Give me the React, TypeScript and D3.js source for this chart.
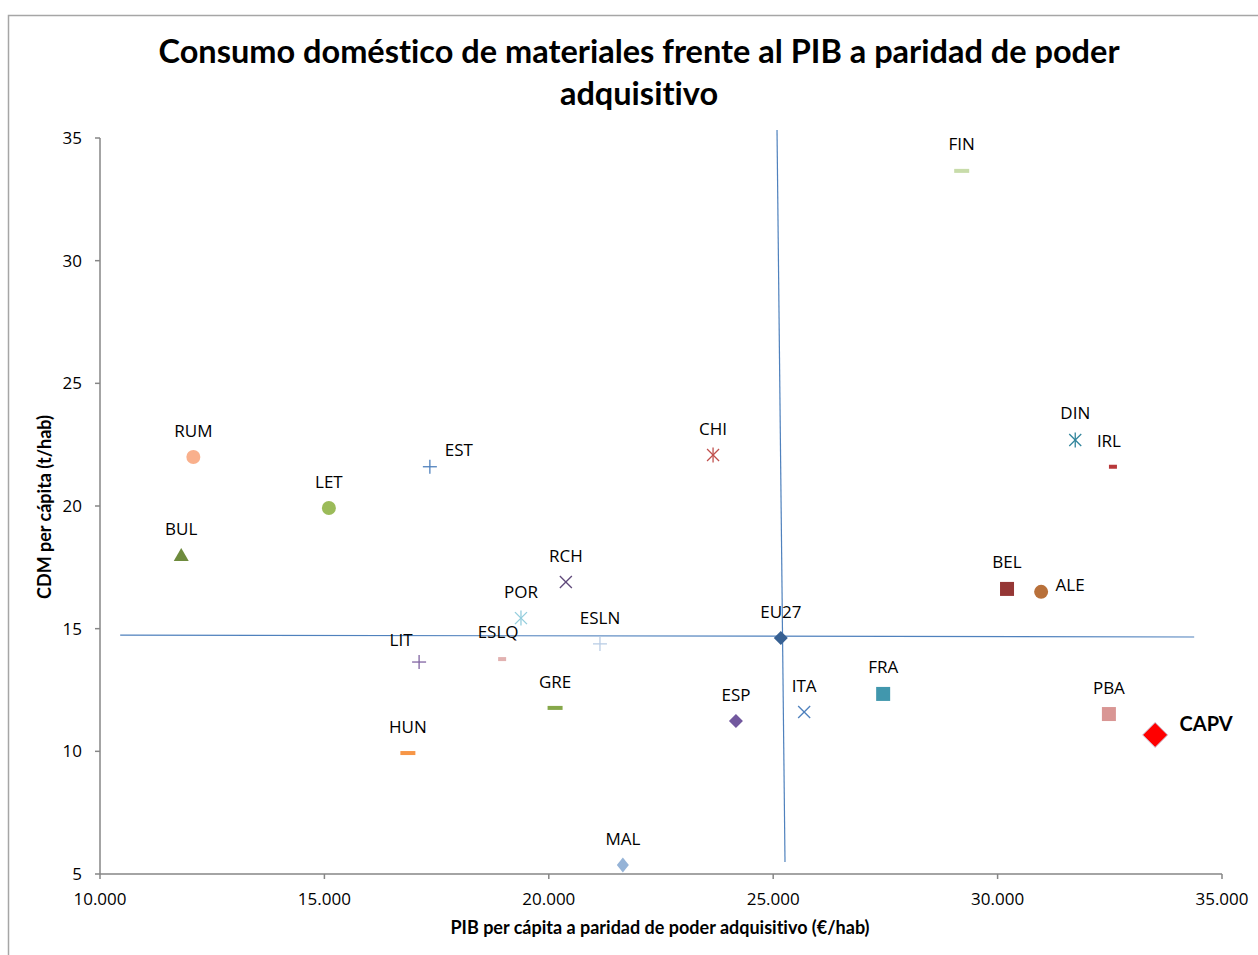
import React from "react";
import * as d3 from "d3";

const W = 1258;
const H = 955;

const titleLines = ["Consumo doméstico de materiales frente al PIB a paridad de poder", "adquisitivo"];
const xAxisTitle = "PIB per cápita a paridad de poder adquisitivo (€/hab)";
const yAxisTitle = "CDM per cápita (t/hab)";

const xTicks = [10000, 15000, 20000, 25000, 30000, 35000];
const yTicks = [5, 10, 15, 20, 25, 30, 35];

const countries = ["RUM", "LET", "BUL", "EST", "CHI", "FIN", "DIN", "IRL", "RCH", "POR", "ESLN", "ESLQ", "LIT", "GRE", "HUN", "EU27", "ESP", "ITA", "MAL", "FRA", "BEL", "ALE", "PBA", "CAPV"];
const gdp = [12080, 15100, 11810, 17350, 23660, 29200, 31730, 32570, 20380, 19380, 21140, 18960, 17110, 20140, 16860, 25170, 24170, 25690, 21650, 27450, 30210, 30970, 32480, 33510];
const cdm = [22.0, 19.92, 18.0, 21.6, 22.08, 33.66, 22.69, 21.6, 16.9, 15.43, 14.38, 13.76, 13.64, 11.77, 9.93, 14.62, 11.24, 11.6, 5.37, 12.34, 16.62, 16.5, 11.52, 10.67];

// reference lines (EU27 averages) in data coordinates
const hLineX = [10450, 34380];
const hLineY = [14.74, 14.66];
const vLineX = [25085, 25263];
const vLineY = [35.33, 5.49];

// styles
const markerTypes = ["circle", "circle", "triangle", "plus", "star", "dashLong", "star", "dashShort", "x", "star", "plus", "dashShort", "plus", "dashLong", "dashLong", "diamond", "diamond", "x", "diamondTall", "square", "square", "circle", "square", "diamondBig"];
const markerColors = ["#F9B08C", "#9BBB59", "#6E8B3D", "#4F81BD", "#C0504D", "#C8DCAA", "#31859C", "#B8383A", "#604A7B", "#93CDDD", "#B9CDE5", "#E2B2B1", "#8064A2", "#86A84A", "#F79646", "#376092", "#72589E", "#4F81BD", "#95B3D7", "#4197AD", "#953735", "#B8703A", "#D99694", "#FF0000"];
const labelDx = [0, 0, 0, 29, 0, 0, 0, -4, 0, 0, 0, -4, -18, 0, 0, 0, 0, 0, 0, 0, 0, 29, 0, 51];
const labelDy = [-26, -26, -26, -17, -26, -27, -27, -26, -26, -26, -26, -27, -22, -26, -26, -26, -26, -26, -26, -27, -27, -7, -26, -11];

const plot = { left: 100, right: 1222, top: 138, bottom: 874 };

const x = d3.scaleLinear().domain([10000, 35000]).range([plot.left, plot.right]);
const y = d3.scaleLinear().domain([5, 35]).range([plot.bottom, plot.top]);
const fmt = (v: number) => d3.format(",")(v).replace(/,/g, ".");

function Marker({ type, color, cx, cy }: { type: string; color: string; cx: number; cy: number }) {
  switch (type) {
    case "circle":
      return <circle cx={cx} cy={cy} r={7} fill={color} />;
    case "triangle":
      return <path d={`M${cx},${cy - 7}L${cx + 7.5},${cy + 6}L${cx - 7.5},${cy + 6}Z`} fill={color} />;
    case "square":
      return <rect x={cx - 7} y={cy - 7} width={14} height={14} fill={color} />;
    case "diamond":
      return <path d={`M${cx},${cy - 7}L${cx + 7},${cy}L${cx},${cy + 7}L${cx - 7},${cy}Z`} fill={color} />;
    case "diamondTall":
      return <path d={`M${cx},${cy - 7.5}L${cx + 6},${cy}L${cx},${cy + 7.5}L${cx - 6},${cy}Z`} fill={color} />;
    case "diamondBig":
      return <path d={`M${cx},${cy - 12.5}L${cx + 12.5},${cy}L${cx},${cy + 12.5}L${cx - 12.5},${cy}Z`} fill={color} stroke="#C8C8D8" strokeWidth={1} />;
    case "plus":
      return (
        <g stroke={color} strokeWidth={1.3}>
          <line x1={cx - 7} y1={cy} x2={cx + 7} y2={cy} />
          <line x1={cx} y1={cy - 7} x2={cx} y2={cy + 7} />
        </g>
      );
    case "x":
      return (
        <g stroke={color} strokeWidth={1.3}>
          <line x1={cx - 6} y1={cy - 6} x2={cx + 6} y2={cy + 6} />
          <line x1={cx - 6} y1={cy + 6} x2={cx + 6} y2={cy - 6} />
        </g>
      );
    case "star":
      return (
        <g stroke={color} strokeWidth={1.3}>
          <line x1={cx - 6} y1={cy - 6} x2={cx + 6} y2={cy + 6} />
          <line x1={cx - 6} y1={cy + 6} x2={cx + 6} y2={cy - 6} />
          <line x1={cx} y1={cy - 7.5} x2={cx} y2={cy + 7.5} />
        </g>
      );
    case "dashLong":
      return <rect x={cx - 7.5} y={cy - 2} width={15} height={4} fill={color} />;
    case "dashShort":
      return <rect x={cx - 4} y={cy - 2} width={8} height={4} fill={color} />;
    default:
      return null;
  }
}

export default function App() {
  const axisColor = "#868686";
  const refColor = "#4F81BD";
  const noLig = { fontVariantLigatures: "none" as const };
  return (
    <svg width={W} height={H} style={{ position: "absolute", left: 0, top: 0, display: "block", background: "#fff" }}>
      <rect x={8.5} y={15.5} width={W + 10} height={H + 10} fill="#fff" stroke="#A6A6A6" strokeWidth={1.5} />
      <g fontFamily="Lato, 'Open Sans', sans-serif" fontWeight="bold" fontSize={32.5} textAnchor="middle" fill="#000" style={noLig}>
        {titleLines.map((t, i) => (
          <text key={i} x={639} y={63 + i * 42}>{t}</text>
        ))}
      </g>

      {/* reference lines */}
      <line x1={x(hLineX[0])} y1={y(hLineY[0])} x2={x(hLineX[1])} y2={y(hLineY[1])} stroke={refColor} strokeWidth={1.2} />
      <line x1={x(vLineX[0])} y1={y(vLineY[0])} x2={x(vLineX[1])} y2={y(vLineY[1])} stroke={refColor} strokeWidth={1.2} />

      {/* axes */}
      <g stroke={axisColor} strokeWidth={1.5}>
        <line x1={plot.left} y1={plot.top} x2={plot.left} y2={plot.bottom} />
        <line x1={plot.left} y1={plot.bottom} x2={plot.right} y2={plot.bottom} />
        {yTicks.map((t) => (
          <line key={"yt" + t} x1={plot.left - 5} y1={y(t)} x2={plot.left} y2={y(t)} />
        ))}
        {xTicks.map((t) => (
          <line key={"xt" + t} x1={x(t)} y1={plot.bottom} x2={x(t)} y2={plot.bottom + 5} />
        ))}
      </g>
      <g fontFamily="'Open Sans', sans-serif" fontSize={17} fill="#000">
        {yTicks.map((t) => (
          <text key={"yl" + t} x={plot.left - 18} y={y(t)} dy="0.35em" textAnchor="end">{t}</text>
        ))}
        {xTicks.map((t) => (
          <text key={"xl" + t} x={x(t)} y={plot.bottom + 31} textAnchor="middle">{fmt(t)}</text>
        ))}
      </g>

      <text x={660} y={934} textAnchor="middle" fontFamily="Lato, sans-serif" fontWeight="bold" fontSize={18} style={noLig}>{xAxisTitle}</text>
      <text transform={`translate(51,507) rotate(-90)`} textAnchor="middle" fontFamily="Lato, sans-serif" fontWeight="bold" fontSize={18} style={noLig}>{yAxisTitle}</text>

      {/* points */}
      {countries.map((c, i) => (
        <Marker key={"m" + c} type={markerTypes[i]} color={markerColors[i]} cx={x(gdp[i])} cy={y(cdm[i])} />
      ))}
      {countries.map((c, i) => (
        <text
          key={"l" + c}
          x={x(gdp[i]) + labelDx[i]}
          y={y(cdm[i]) + labelDy[i]}
          dy="0.35em"
          textAnchor="middle"
          fontFamily={c === "CAPV" ? "Lato, sans-serif" : "'Open Sans', sans-serif"}
          fontWeight={c === "CAPV" ? "bold" : "normal"}
          fontSize={c === "CAPV" ? 20 : 17}
          fill="#000"
        >
          {c}
        </text>
      ))}
    </svg>
  );
}
